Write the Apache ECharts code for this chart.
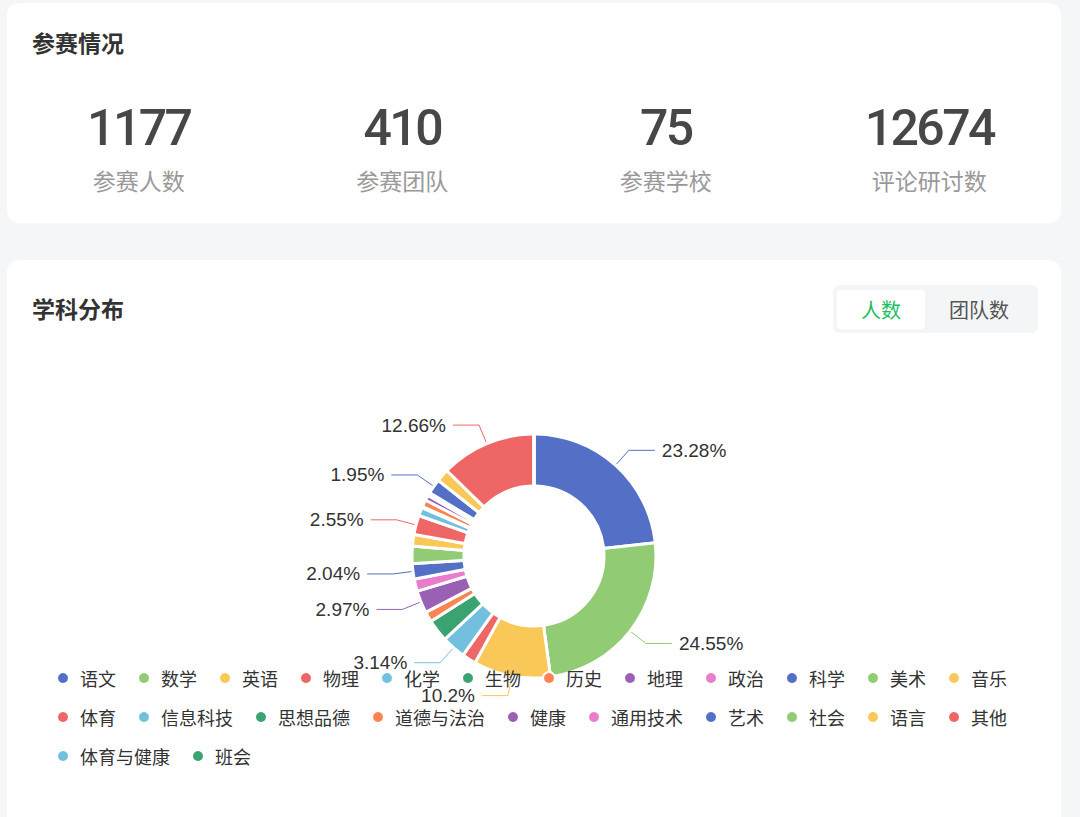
<!DOCTYPE html>
<html>
<head>
<meta charset="utf-8">
<script src="https://cdn.jsdelivr.net/npm/echarts@6/dist/echarts.min.js"></script>
<style>
  html, body { margin: 0; padding: 0; background: #f5f6f8; width: 1080px; height: 817px; overflow: hidden; font-family: "Noto Sans CJK SC", "Noto Sans", sans-serif; }
  .card { position: absolute; background: #fff; border-radius: 12px; }
  .title { position: absolute; left: 25px; font-size: 23px; font-weight: bold; color: #333; line-height: 30px; height: 30px; }
  .stat { position: absolute; top: 0; width: 263.5px; text-align: center; }
  .num { position: absolute; left: 0; right: 0; top: 95px; height: 60px; line-height: 60px; font-family: Roboto, "DejaVu Sans", sans-serif; font-weight: 500; font-size: 50px; letter-spacing: -2.6px; color: #474747; }
  .lbl { position: absolute; left: 0; right: 0; top: 160px; height: 34px; line-height: 34px; font-size: 23px; color: #999; }
  .tabs { position: absolute; left: 833px; top: 285px; width: 205px; height: 48px; background: #f4f5f7; border-radius: 6px; }
  .tab { position: absolute; top: 5px; height: 39px; line-height: 39px; text-align: center; font-size: 20px; }
  #chart { position: absolute; left: 0; top: 0; width: 1080px; height: 817px; }
</style>
</head>
<body>
<div class="card" style="left:7px; top:3px; width:1054px; height:220px;">
  <div class="title" style="top:24px;">参赛情况</div>
  <div id="stats"></div>
</div>
<div class="card" style="left:7px; top:260px; width:1054px; height:600px;">
  <div class="title" style="top:33px;">学科分布</div>
</div>
<div class="tabs">
  <div class="tab" style="left:4px; width:88px; background:#fff; border-radius:4px; color:#1fbf5f;">人数</div>
  <div class="tab" style="left:100px; width:92px; color:#555;">团队数</div>
</div>
<div id="chart"></div>
<script>
// Summary statistics
const statLabels = ['参赛人数', '参赛团队', '参赛学校', '评论研讨数'];
const statValues = [1177, 410, 75, 12674];

// Subject distribution (number of participants)
const subjects = ['语文', '数学', '英语', '物理', '化学', '生物', '历史', '地理', '政治', '科学', '美术', '音乐',
                  '体育', '信息科技', '思想品德', '道德与法治', '健康', '通用技术', '艺术', '社会', '语言', '其他',
                  '体育与健康', '班会'];
const participants = [274, 289, 120, 22, 37, 35, 16, 35, 19, 24, 27, 18,
                      30, 13, 2, 11, 8, 5, 23, 0, 20, 149,
                      0, 0];
// Slices whose percentage label is visible in the reference
const labeledSubjects = ['语文', '数学', '英语', '化学', '地理', '科学', '体育', '艺术', '其他'];

const statsEl = document.getElementById('stats');
statLabels.forEach((name, i) => {
  const d = document.createElement('div');
  d.className = 'stat';
  d.style.left = (i * 263.5) + 'px';
  d.innerHTML = '<div class="num">' + statValues[i] + '</div><div class="lbl">' + name + '</div>';
  statsEl.appendChild(d);
});

const pieData = subjects.map((name, i) => {
  const shown = labeledSubjects.indexOf(name) >= 0;
  return { name: name, value: participants[i], label: { show: shown }, labelLine: { show: shown } };
});

const chart = echarts.init(document.getElementById('chart'), null, { renderer: 'svg' });
chart.setOption({
  animation: false,
  color: ['#5470c6', '#91cc75', '#fac858', '#ee6666', '#73c0de', '#3ba272', '#fc8452', '#9a60b4', '#ea7ccc'],
  legend: {
    type: 'plain',
    left: 56,
    right: 40,
    top: 669,
    padding: 0,
    icon: 'circle',
    itemWidth: 24,
    itemHeight: 12,
    itemGap: 21,
    textStyle: { fontSize: 18, color: '#333', lineHeight: 18, fontFamily: '"Noto Sans CJK SC", sans-serif' },
    data: subjects
  },
  series: [{
    type: 'pie',
    center: [534, 556],
    radius: [70, 122],
    avoidLabelOverlap: false,
    startAngle: 90,
    itemStyle: { borderColor: '#fff', borderWidth: 3, borderRadius: 2 },
    label: {
      show: true,
      formatter: '{d}%',
      fontSize: 19,
      color: '#333',
      fontFamily: '"Liberation Sans", Arial, sans-serif',
      distanceToLabelLine: 7
    },
    labelLine: { show: true, length: 20, length2: 26, lineStyle: { width: 1 } },
    emphasis: { scale: false },
    data: pieData
  }]
});
</script>
</body>
</html>
